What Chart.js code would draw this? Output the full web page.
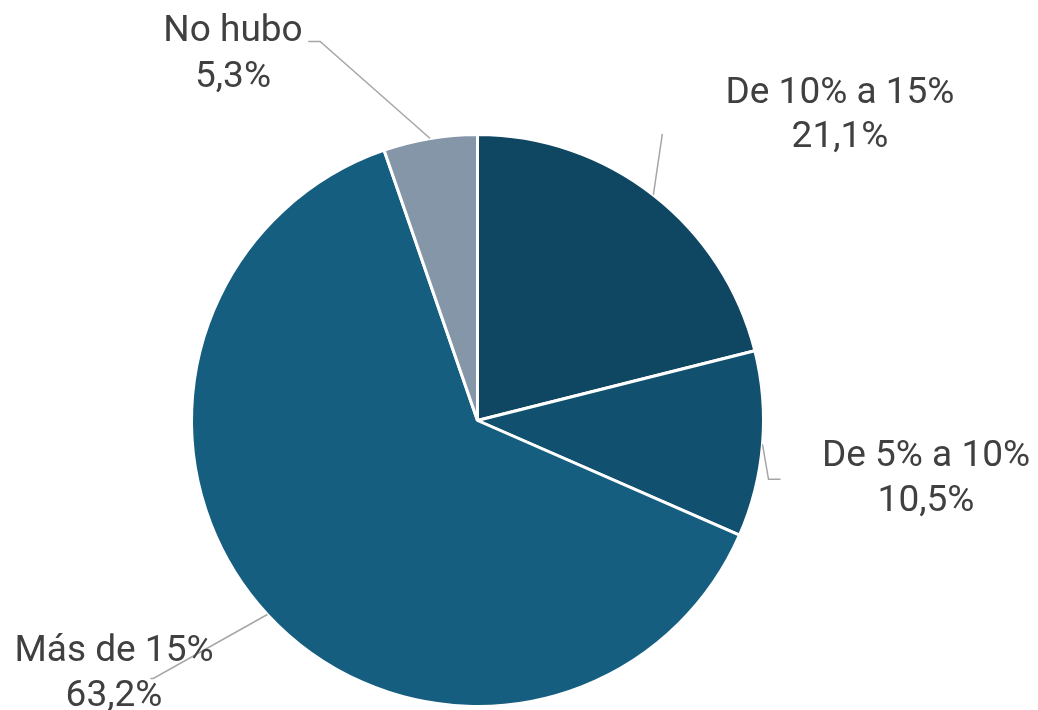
<!DOCTYPE html>
<html>
<head>
<meta charset="utf-8">
<script src="https://cdn.jsdelivr.net/npm/chart.js@4/dist/chart.umd.min.js"></script>
<style>
  html, body { margin: 0; padding: 0; background: #ffffff; }
  #wrap { width: 1038px; height: 710px; position: relative; }
</style>
</head>
<body>
<div id="wrap"><canvas id="c" width="1038" height="710"></canvas></div>
<script>
// ---- data ----
const categories = ["De 10% a 15%", "De 5% a 10%", "Más de 15%", "No hubo"];
const values = [21.1, 10.5, 63.2, 5.3];
const valueLabels = ["21,1%", "10,5%", "63,2%", "5,3%"];

// ---- styling ----
const sliceColors = ["#0f4662", "#11506e", "#165e80", "#8496a8"];

// label layout: leader-line elbow offset from arc anchor, tail length, text center x and baselines
const labelLayout = [
  { elbow: [9, -61], tail: 0,   tx: 840, by: [102.5, 146.5] },
  { elbow: [6, 35],  tail: 12,  tx: 926, by: [466, 511] },
  { elbow: [-114, 64], tail: -3, tx: 114, by: [661, 706] },
  { elbow: [-110, -97], tail: -12, tx: 233, by: [41, 86.5] }
];

const labelPlugin = {
  id: 'outLabels',
  afterDatasetsDraw(chart) {
    const ctx = chart.ctx;
    const meta = chart.getDatasetMeta(0);
    meta.data.forEach((arc, i) => {
      const p = arc.getProps(['x', 'y', 'startAngle', 'endAngle', 'outerRadius'], true);
      const mid = (p.startAngle + p.endAngle) / 2;
      const ax = p.x + Math.cos(mid) * p.outerRadius;
      const ay = p.y + Math.sin(mid) * p.outerRadius;
      const L = labelLayout[i];
      const ex = ax + L.elbow[0], ey = ay + L.elbow[1];
      ctx.save();
      ctx.strokeStyle = '#a6a6a6';
      ctx.lineWidth = 1.5;
      ctx.beginPath();
      ctx.moveTo(ax, ay);
      ctx.lineTo(ex, ey);
      if (L.tail) ctx.lineTo(ex + L.tail, ey);
      ctx.stroke();
      ctx.fillStyle = '#404040';
      ctx.font = '37px Roboto';
      ctx.textAlign = 'center';
      ctx.textBaseline = 'alphabetic';
      ctx.fillText(categories[i], L.tx, L.by[0]);
      ctx.fillText(valueLabels[i], L.tx, L.by[1]);
      ctx.restore();
    });
  }
};

new Chart(document.getElementById('c'), {
  type: 'pie',
  data: {
    labels: categories,
    datasets: [{
      data: values,
      backgroundColor: sliceColors,
      borderColor: '#ffffff',
      borderWidth: 3
    }]
  },
  options: {
    responsive: false,
    animation: false,
    layout: { padding: { left: 190, right: 273, top: 133, bottom: 2 } },
    plugins: {
      legend: { display: false },
      tooltip: { enabled: false }
    }
  },
  plugins: [labelPlugin]
});
</script>
</body>
</html>
